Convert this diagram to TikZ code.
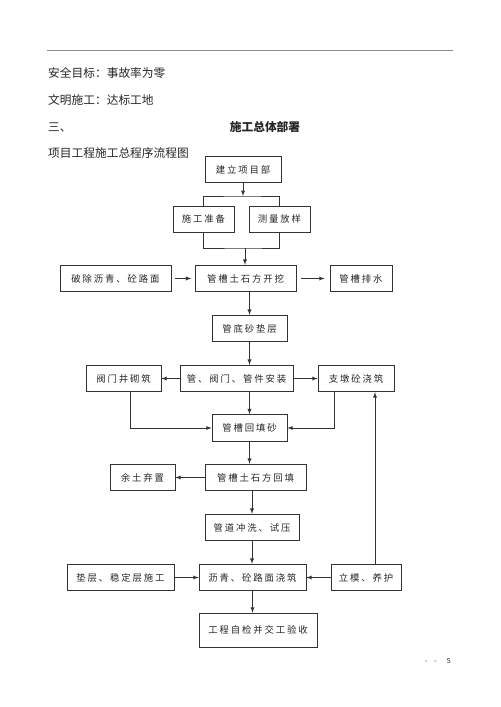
\documentclass[tikz,border=0pt]{standalone}
\usepackage{fontspec}
\setmainfont{Noto Sans CJK SC}
\newfontfamily\boxfont[LetterSpace=20]{Noto Sans CJK SC}
\usepackage{tikz}

\begin{document}
\begin{tikzpicture}[x=0.03cm,y=-0.03cm,>=latex,
  box/.style={draw=black!80,line width=0.6pt,inner sep=0pt,minimum height=0.8cm,font=\boxfont\fontsize{8}{8}\selectfont,text=black!85},
  txt/.style={anchor=west,inner sep=0pt,font=\fontsize{10}{10}\selectfont,text=black!85},
  arr/.style={->,draw=black!80,line width=0.6pt},
  lin/.style={draw=black!80,line width=0.6pt}]
\useasboundingbox (0,0) rectangle (500,707);
\coordinate (r1) at (47,50);
\coordinate (r2) at (453,50);
\draw[black!45,line width=0.8pt] (r1) -- (r2);
\node[txt] (t1) at (48,73) {安全目标：事故率为零};
\node[txt] (t2) at (48,100) {文明施工：达标工地};
\node[txt] (t3) at (48,127) {三、};
\node[txt,anchor=center,font=\bfseries\fontsize{10}{10}\selectfont] (t4) at (265,127) {施工总体部署};
\node[txt] (t5) at (48,153) {项目工程施工总程序流程图};
\node[txt,font=\fontsize{6}{6}\selectfont] (pg) at (425,661) {-\hspace{2mm}-\hspace{3mm}5};
\node[box,minimum width=2.28cm] (xmb) at (243,169.5) {建立项目部};
\node[box,minimum width=1.83cm,minimum height=0.78cm] (sgzb) at (203.5,219) {施工准备};
\node[box,minimum width=1.83cm,minimum height=0.78cm] (clyf) at (279.5,219) {测量放样};
\node[box,minimum width=3.33cm] (pc) at (115.5,278.5) {破除沥青、砼路面};
\node[box,minimum width=3.03cm] (kw) at (245.5,278.5) {管槽土石方开挖};
\node[box,minimum width=1.86cm] (ps) at (361,278.5) {管槽排水};
\node[box,minimum width=2.25cm] (dc) at (249.5,328.5) {管底砂垫层};
\node[box,minimum width=2.25cm] (fm) at (123.5,378.5) {阀门井砌筑};
\node[box,minimum width=3.39cm] (az) at (236.5,378.5) {管、阀门、管件安装};
\node[box,minimum width=2.28cm] (zd) at (356,378.5) {支墩砼浇筑};
\node[box,minimum width=2.25cm] (hts) at (249.5,428) {管槽回填砂};
\node[box,minimum width=1.95cm] (yt) at (142.5,477.5) {余土弃置};
\node[box,minimum width=3.03cm] (htf) at (255.5,477.5) {管槽土石方回填};
\node[box,minimum width=2.82cm] (cx) at (252,527.5) {管道冲洗、试压};
\node[box,minimum width=3.21cm] (dw) at (120.5,577.5) {垫层、稳定层施工};
\node[box,minimum width=3.21cm] (lm) at (252.5,577.5) {沥青、砼路面浇筑};
\node[box,minimum width=2.1cm] (lh) at (366,577.5) {立模、养护};
\node[box,minimum width=3.54cm,minimum height=1.02cm] (ys) at (258,630) {工程自检并交工验收};
% joints
\coordinate (j1) at (243,196);
\coordinate (j2) at (245,248);
\coordinate (fb) at ([xshift=1.35cm]fm.south west);
\coordinate (zb) at ([xshift=5mm]zd.south west);
\coordinate (lt) at ([xshift=2.7mm]lh.north);
\draw[arr] (xmb) -- (j1);
\draw[lin] (sgzb.north) |- (j1) -| (clyf.north);
\draw[lin] (sgzb.south) |- (j2) -| (clyf.south);
\draw[arr] (j2) -- (j2 |- kw.north);
\draw[arr,shorten <=1mm,shorten >=1mm] (pc) -- (kw);
\draw[arr,shorten <=1.5mm,shorten >=1.5mm] (kw) -- (ps);
\draw[arr] (kw.south -| dc.north) -- (dc.north);
\draw[arr] (dc.south) -- (dc.south |- az.north);
\draw[arr] (az) -- (fm);
\draw[arr] (az) -- (zd);
\draw[arr] (hts.north |- az.south) -- (hts.north);
\draw[arr] (fb) |- (hts.west);
\draw[arr] (zb) |- (hts.east);
\draw[arr] (lt) -- (lt |- zd.south);
\draw[arr] (hts.south) -- (hts.south |- htf.north);
\draw[arr] (htf) -- (yt);
\draw[arr] (cx.north |- htf.south) -- (cx.north);
\draw[arr] (cx.south) -- (cx.south |- lm.north);
\draw[arr] (dw) -- (lm);
\draw[arr] (lh) -- (lm);
\draw[arr] (lm.south) -- (lm.south |- ys.north);
\end{tikzpicture}
\end{document}
